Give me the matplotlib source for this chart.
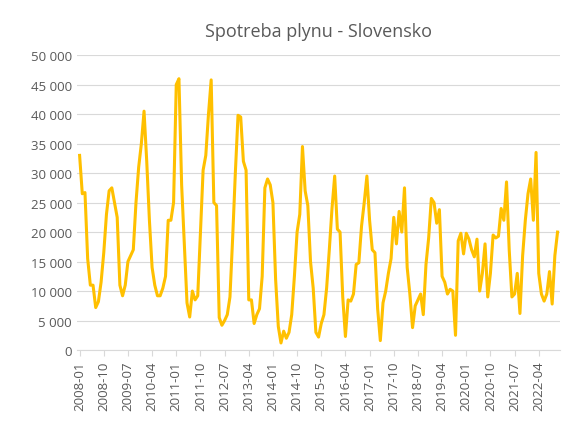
import matplotlib
matplotlib.use("Agg")
import matplotlib.pyplot as plt
import matplotlib.ticker as mticker
import numpy as np

# Monthly gas consumption, 2008-01 .. 2022-11
values = [
    33000, 26500, 26700, 15500, 11000, 11000, 7200, 8200, 11500, 16500, 23000, 27000,
    27500, 25000, 22500, 11000, 9200, 11000, 15000, 16000, 17000, 25000, 31000, 35000,
    40500, 32000, 22000, 14000, 11000, 9200, 9200, 10500, 12500, 22000, 22000, 25000,
    45000, 46000, 28000, 18000, 8000, 5600, 10000, 8500, 9200, 20000, 30500, 33000,
    40000, 45800, 25000, 24500, 5500, 4200, 5000, 6000, 9000, 19000, 30000, 39800,
    39500, 32000, 30500, 8500, 8500, 4500, 6000, 7000, 12500, 27500, 29000, 28000,
    25000, 12000, 4000, 1200, 3200, 2000, 3000, 6000, 12500, 20000, 23000, 34500,
    27000, 24500, 15000, 10500, 3000, 2200, 4500, 6000, 10500, 17000, 24000, 29500,
    20500, 20000, 9000, 2300, 8500, 8300, 9500, 14500, 14800, 21000, 25000, 29500,
    22000, 17000, 16500, 7000, 1600, 8000, 10000, 13000, 15500, 22500, 18000, 23500,
    20000, 27500, 14000, 9500, 3800, 7500, 8500, 9500, 6000, 14500, 19000, 25700,
    25000, 21500, 23800, 12500, 11500, 9500, 10300, 10000, 2500, 18500, 19800, 16300,
    19800, 18800, 17000, 15800, 18800, 10000, 13000, 18000, 9000, 13000, 19500, 19000,
    19300, 24000, 22000, 28500, 17000, 9000, 9500, 13000, 6200, 16000, 22000, 26500,
    29000, 22000, 33500, 13000, 9500, 8300, 9500, 13300, 7800, 16000, 20000,
]
months = [f"{2008 + i // 12}-{i % 12 + 1:02d}" for i in range(len(values))]

plt.rcParams["font.family"] = ["Open Sans", "DejaVu Sans"]
fig = plt.figure(figsize=(5.74, 4.35), dpi=100)
ax = fig.add_axes([0.134, 0.193, 0.842, 0.678])

x = np.arange(len(values))
ax.plot(x, values, color="#FFC000", linewidth=2.2)

ax.set_xlim(-1, len(values))
ax.set_ylim(0, 50000)
ax.set_yticks(np.arange(0, 50001, 5000))
ax.yaxis.set_major_formatter(mticker.FuncFormatter(lambda v, _: f"{int(v):,}".replace(",", " ")))
ax.set_xticks(x[::9])
ax.set_xticklabels(months[::9], rotation=90)
ax.tick_params(axis="both", labelsize=9.5, colors="#595959", length=0)
ax.tick_params(axis="x", length=4, color="#d9d9d9")
ax.grid(axis="y", color="#d9d9d9", linewidth=0.8)
ax.set_axisbelow(True)
for s in ["top", "right", "left"]:
    ax.spines[s].set_visible(False)
ax.spines["bottom"].set_color("#d9d9d9")
ax.set_title("Spotreba plynu - Slovensko", fontsize=13, color="#595959", pad=14)

fig.savefig("out.png", dpi=100)
